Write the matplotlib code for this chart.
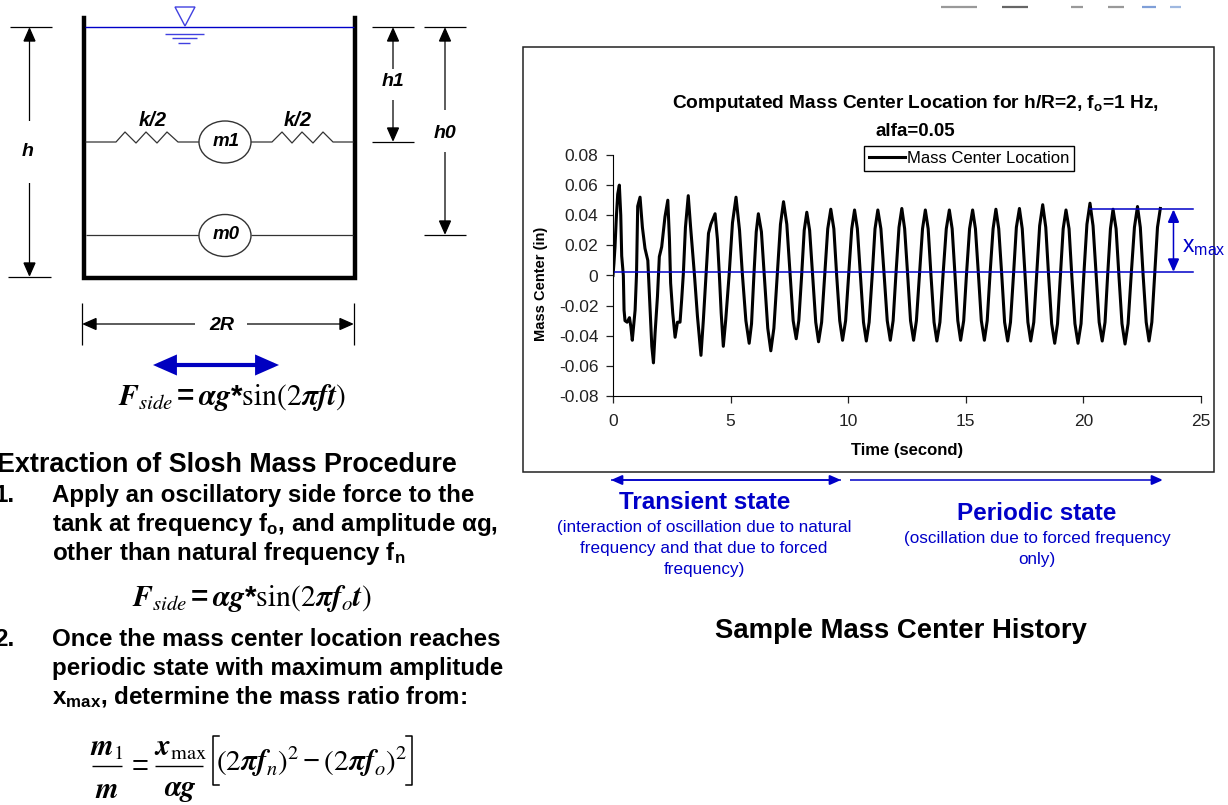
"""Slosh mass extraction slide: tank sketch, procedure text and mass center history."""

import matplotlib
matplotlib.use("Agg")
import matplotlib.pyplot as plt
from matplotlib.patches import Ellipse, Polygon, Rectangle

plt.rcParams["font.family"] = ["Liberation Sans", "DejaVu Sans"]
plt.rcParams["mathtext.default"] = "regular"

time_s = [
    0, 0.04, 0.085, 0.14, 0.20, 0.27, 0.33, 0.37, 0.44, 0.47, 0.51, 0.60, 0.70, 0.76, 0.82,
    0.94, 1.00, 1.05, 1.15, 1.25, 1.36, 1.48, 1.57, 1.65, 1.72, 1.79, 1.89, 1.97, 2.07, 2.21,
    2.33, 2.40, 2.45, 2.54, 2.64, 2.74, 2.85, 2.92, 2.99, 3.08, 3.20, 3.30, 3.46, 3.59, 3.74,
    3.84, 3.96, 4.06, 4.16, 4.34, 4.44, 4.52, 4.60, 4.69, 4.79, 4.94, 5.08, 5.23, 5.38, 5.50,
    5.65, 5.79, 5.89, 5.99, 6.09, 6.18, 6.31, 6.44, 6.58, 6.71, 6.84, 6.98, 7.12, 7.25, 7.39,
    7.52, 7.66, 7.79, 7.90, 8.02, 8.13, 8.24, 8.36, 8.49, 8.62, 8.74, 8.87, 9.00, 9.13, 9.26,
    9.39, 9.51, 9.64, 9.76, 9.89, 10.02, 10.15, 10.27, 10.39, 10.52, 10.65, 10.77, 10.89, 11.02,
    11.14, 11.26, 11.39, 11.53, 11.66, 11.79, 11.91, 12.03, 12.16, 12.28, 12.40, 12.53, 12.65,
    12.78, 12.90, 13.03, 13.16, 13.28, 13.40, 13.52, 13.65, 13.77, 13.90, 14.03, 14.17, 14.30,
    14.42, 14.54, 14.66, 14.78, 14.91, 15.03, 15.16, 15.29, 15.41, 15.54, 15.66, 15.79, 15.91,
    16.03, 16.16, 16.28, 16.40, 16.53, 16.65, 16.78, 16.90, 17.03, 17.15, 17.28, 17.40, 17.52,
    17.64, 17.76, 17.89, 18.02, 18.14, 18.27, 18.40, 18.52, 18.65, 18.78, 18.90, 19.02, 19.14,
    19.26, 19.39, 19.51, 19.64, 19.77, 19.90, 20.02, 20.15, 20.28, 20.41, 20.54, 20.67, 20.80,
    20.92, 21.03, 21.15, 21.26, 21.39, 21.51, 21.64, 21.77, 21.90, 22.03, 22.17, 22.30, 22.42,
    22.54, 22.67, 22.79, 22.91, 23.03, 23.15, 23.27,
]
mass_center = [
    0, 0.008, 0.019, 0.038, 0.054, 0.060, 0.040, 0.013, 0, -0.023, -0.030, -0.031, -0.028, -0.034, -0.043,
    -0.023, 0.001, 0.046, 0.052, 0.032, 0.018, 0.010, -0.021, -0.047, -0.058, -0.038, -0.014, 0.0125, 0.019, 0.039,
    0.050, 0.024, -0.005, -0.025, -0.041, -0.031, -0.031, -0.016, 0.001, 0.032, 0.053, 0.032, 0.001, -0.027, -0.053,
    -0.030, 0.001, 0.028, 0.034, 0.041, 0.024, 0.001, -0.025, -0.047, -0.030, 0.001, 0.035, 0.052, 0.030, 0.001,
    -0.030, -0.045, -0.032, 0, 0.029, 0.041, 0.029, -0.002, -0.035, -0.050, -0.035, 0, 0.034, 0.049, 0.034,
    0.003, -0.030, -0.042, -0.030, 0, 0.030, 0.042, 0.030, -0.001, -0.031, -0.044, -0.031, 0, 0.031, 0.044,
    0.031, 0, -0.030, -0.043, -0.030, 0.001, 0.031, 0.0435, 0.031, 0, -0.031, -0.0435, -0.031, 0,
    0.031, 0.0435, 0.031, 0, -0.030, -0.043, -0.030, 0.001, 0.032, 0.0445, 0.031, 0, -0.030,
    -0.043, -0.030, 0.001, 0.031, 0.0435, 0.031, 0, -0.031, -0.0435, -0.031, 0, 0.031, 0.0435,
    0.031, 0, -0.030, -0.043, -0.030, 0.001, 0.031, 0.0435, 0.031, 0, -0.030, -0.043, -0.030,
    0.001, 0.031, 0.044, 0.031, 0, -0.031, -0.0435, -0.031, 0.001, 0.032, 0.0445, 0.031, 0,
    -0.031, -0.0435, -0.031, 0.002, 0.033, 0.047, 0.032, 0, -0.032, -0.045, -0.032, 0, 0.031,
    0.0435, 0.031, -0.001, -0.032, -0.045, -0.032, 0.001, 0.034, 0.048, 0.033, 0.001, -0.031, -0.0435,
    -0.031, 0, 0.031, 0.044, 0.031, 0, -0.032, -0.0455, -0.032, 0, 0.032, 0.0458, 0.032,
    0, -0.031, -0.0435, -0.031, 0, 0.032, 0.0445,
]
x_ticks = [0, 5, 10, 15, 20, 25]
y_ticks = [-0.08, -0.06, -0.04, -0.02, 0, 0.02, 0.04, 0.06, 0.08]
y_tick_labels = ["-0.08", "-0.06", "-0.04", "-0.02", "0", "0.02", "0.04", "0.06", "0.08"]
mean_level = 0.0023
xmax_level = 0.044

BLUE = "#0000c8"
W, H = 1228, 805


def dim_arrow(ax, start, end, color="black", lw=0.9, head=9, both=False):
    style = "<|-|>" if both else "-|>"
    ax.annotate("", xy=end, xytext=start,
                arrowprops=dict(arrowstyle=f"{style},head_width=0.22,head_length=0.5", color=color, lw=lw,
                                shrinkA=0, shrinkB=0, mutation_scale=head * 2, joinstyle="miter", capstyle="butt"))


def hline(ax, x0, x1, y, color="black", lw=0.9):
    ax.plot([x0, x1], [y, y], color=color, lw=lw, solid_capstyle="butt")


def vline(ax, x, y0, y1, color="black", lw=0.9):
    ax.plot([x, x], [y0, y1], color=color, lw=lw, solid_capstyle="butt")


fig = plt.figure(figsize=(W / 100, H / 100), dpi=100)
bg = fig.add_axes([0, 0, 1, 1])
bg.set_xlim(0, W)
bg.set_ylim(H, 0)
bg.axis("off")

# tank
bg.plot([84, 84, 355, 355], [18, 278, 278, 18], color="black", lw=3.2, solid_joinstyle="miter")
hline(bg, 85, 354, 27.5, color=BLUE, lw=1)
bg.add_patch(Polygon([[175, 7], [195, 7], [185, 26]], closed=True, fill=False, edgecolor="#4040e0", lw=1))
hline(bg, 165, 204, 34, color="#4040e0", lw=1)
hline(bg, 172, 197, 38.5, color="#4040e0", lw=1)
hline(bg, 178, 190, 43, color="#4040e0", lw=1)

# springs and masses
bg.plot([86, 116, 125, 136, 146, 157, 167, 178, 199],
        [142, 142, 132, 143, 132, 143, 132, 142, 142], color="#333333", lw=0.9)
bg.plot([251, 272, 282, 292, 302, 313, 323, 333, 353],
        [142, 142, 132, 143, 132, 143, 132, 142, 142], color="#333333", lw=0.9)
hline(bg, 86, 199, 235.5, color="#333333")
hline(bg, 251, 353, 235.5, color="#333333")
for cy, name in [(142, "m1"), (235.5, "m0")]:
    bg.add_patch(Ellipse((225, cy), 52, 42, facecolor="white", edgecolor="#333333", lw=1, zorder=3))
    bg.text(226, cy - 1, name, ha="center", va="center", fontsize=13.5, style="italic", weight="bold", zorder=4)
bg.text(153, 120, "k/2", ha="center", va="center", fontsize=14.5, style="italic", weight="bold")
bg.text(298, 120, "k/2", ha="center", va="center", fontsize=14.5, style="italic", weight="bold")

# height dimensions
hline(bg, 10, 52, 27)
hline(bg, 8, 51, 277)
dim_arrow(bg, (29.5, 121), (29.5, 27))
dim_arrow(bg, (29.5, 183), (29.5, 277))
bg.text(28, 152, "h", ha="center", va="center", fontsize=14, style="italic", weight="bold")
hline(bg, 372, 414, 27)
hline(bg, 372, 414, 142)
dim_arrow(bg, (393, 69), (393, 27))
dim_arrow(bg, (393, 100), (393, 142))
bg.text(393, 82, "h1", ha="center", va="center", fontsize=14, style="italic", weight="bold")
hline(bg, 424, 466, 27)
hline(bg, 424, 466, 235.5)
dim_arrow(bg, (445, 110), (445, 27))
dim_arrow(bg, (445, 152), (445, 235))
bg.text(445, 133, "h0", ha="center", va="center", fontsize=14, style="italic", weight="bold")
vline(bg, 81.5, 303, 345)
vline(bg, 354, 303, 345)
dim_arrow(bg, (195, 324), (82, 324))
dim_arrow(bg, (247, 324), (354, 324))
bg.text(222, 325, "2R", ha="center", va="center", fontsize=14, style="italic", weight="bold")

# side force
dim_arrow(bg, (153, 365), (279, 365), color="#0000c0", lw=3, head=12, both=True)
bg.text(232, 397, r"$\mathbfit{F}_{\mathit{side}}=\mathbfit{\alpha g}$*$\mathrm{sin(2}\mathbfit{\pi ft}\mathrm{)}$",
        ha="center", va="center", fontsize=21.3, math_fontfamily="stix", weight="bold")

# procedure text
bg.text(-3, 465, "Extraction of Slosh Mass Procedure", ha="left", va="center", fontsize=19.4, weight="bold")
bg.text(-6, 495, "1.", ha="left", va="center", fontsize=17.4, weight="bold")
bg.text(52, 495, "Apply an oscillatory side force to the", ha="left", va="center", fontsize=17.4, weight="bold")
bg.text(52, 524, "tank at frequency f$_{o}$, and amplitude αg,", ha="left", va="center", fontsize=17.4, weight="bold")
bg.text(52, 553, "other than natural frequency f$_{n}$", ha="left", va="center", fontsize=17.4, weight="bold")
bg.text(252, 598, r"$\mathbfit{F}_{\mathit{side}}=\mathbfit{\alpha g}$*$\mathrm{sin(2}\mathbfit{\pi f}_{\mathit{o}}\mathbfit{t}\mathrm{)}$",
        ha="center", va="center", fontsize=21.3, math_fontfamily="stix", weight="bold")
bg.text(-6, 639, "2.", ha="left", va="center", fontsize=17.4, weight="bold")
bg.text(52, 639, "Once the mass center location reaches", ha="left", va="center", fontsize=17.4, weight="bold")
bg.text(52, 668, "periodic state with maximum amplitude", ha="left", va="center", fontsize=17.4, weight="bold")
bg.text(52, 697, "x$_{max}$, determine the mass ratio from:", ha="left", va="center", fontsize=17.4, weight="bold")

# mass ratio formula, laid out by hand because the fractions are tall
bg.text(107, 748, r"$\mathbfit{m}_{\mathrm{1}}$", ha="center", va="center", fontsize=21, math_fontfamily="stix")
hline(bg, 92, 122, 766, lw=1)
bg.text(107, 790, r"$\mathbfit{m}$", ha="center", va="center", fontsize=21, math_fontfamily="stix")
bg.text(138, 765, r"$=$", ha="center", va="center", fontsize=21, math_fontfamily="stix")
bg.text(180, 748, r"$\mathbfit{x}_{\mathrm{max}}$", ha="center", va="center", fontsize=21, math_fontfamily="stix")
hline(bg, 155, 203, 766, lw=1)
bg.text(180, 790, r"$\mathbfit{\alpha g}$", ha="center", va="center", fontsize=21, math_fontfamily="stix")
bg.plot([219, 213, 213, 219], [736, 736, 785, 785], color="black", lw=1.1)
bg.plot([406, 412, 412, 406], [736, 736, 785, 785], color="black", lw=1.1)
bg.text(312, 762,
        r"$\mathrm{(2}\mathbfit{\pi f}_{\mathit{n}}\mathrm{)}^{\mathrm{2}}-\mathrm{(2}\mathbfit{\pi f}_{\mathit{o}}\mathrm{)}^{\mathrm{2}}$",
        ha="center", va="center", fontsize=21, math_fontfamily="stix")

# clipped artwork at the top edge
for x0, x1, col in [(941, 977, "#999999"), (1002, 1028, "#666666"), (1071, 1083, "#999999"),
                    (1108, 1124, "#999999"), (1142, 1156, "#7f9fd8"), (1170, 1181, "#9fb8e0")]:
    hline(bg, x0, x1, 7, color=col, lw=1.6)

# chart frame and captions
bg.add_patch(Rectangle((523, 47), 691, 425, fill=False, edgecolor="#222222", lw=1.1))
bg.text(915, 104, "Computated Mass Center Location for h/R=2, f$_{o}$=1 Hz,", ha="center", va="center",
        fontsize=13.8, weight="bold")
bg.text(915, 132, "alfa=0.05", ha="center", va="center", fontsize=13.5, weight="bold")
dim_arrow(bg, (841, 480), (611, 480), color=BLUE, lw=1.1, head=7)
dim_arrow(bg, (611, 480), (841, 480), color=BLUE, lw=1.1, head=7)
dim_arrow(bg, (850, 480), (1163, 480), color=BLUE, lw=1.1, head=7)
bg.text(705, 502, "Transient state", ha="center", va="center", fontsize=17.5, weight="bold", color=BLUE)
bg.text(704, 527, "(interaction of oscillation due to natural", ha="center", va="center", fontsize=12.3, color=BLUE)
bg.text(704, 548, "frequency and that due to forced", ha="center", va="center", fontsize=12.3, color=BLUE)
bg.text(704, 569, "frequency)", ha="center", va="center", fontsize=12.3, color=BLUE)
bg.text(1037, 513, "Periodic state", ha="center", va="center", fontsize=17.5, weight="bold", color=BLUE)
bg.text(1037, 538, "(oscillation due to forced frequency", ha="center", va="center", fontsize=12.3, color=BLUE)
bg.text(1037, 559, "only)", ha="center", va="center", fontsize=12.3, color=BLUE)
bg.text(901, 631, "Sample Mass Center History", ha="center", va="center", fontsize=19.8, weight="bold")
bg.text(1182, 246, "x$_{max}$", ha="left", va="center", fontsize=16.5, color=BLUE)

# mass center history
ax = fig.add_axes([613 / W, 1 - 396 / H, (1201 - 613) / W, (396 - 155) / H], zorder=2)
ax.patch.set_visible(False)
ax.plot(time_s, mass_center, color="black", lw=2.2, label="Mass Center Location")
ax.plot([0, 24.66], [mean_level, mean_level], color=BLUE, lw=1.1)
ax.plot([20.3, 24.66], [xmax_level, xmax_level], color=BLUE, lw=1.1)
dim_arrow(ax, (23.83, mean_level), (23.83, xmax_level), color=BLUE, lw=1.1, head=8, both=True)
ax.set_xlim(0, 25)
ax.set_ylim(-0.08, 0.08)
ax.set_xticks(x_ticks)
ax.set_yticks(y_ticks)
ax.set_yticklabels(y_tick_labels)
ax.tick_params(labelsize=12.5, length=5, width=0.9, colors="#222222")
ax.tick_params(axis="x", pad=8)
ax.tick_params(axis="y", pad=5.5)
for side in ["top", "right"]:
    ax.spines[side].set_visible(False)
ax.set_xlabel("Time (second)", fontsize=12, weight="bold")
ax.xaxis.set_label_coords((907 - 613) / (1201 - 613), -(451 - 396) / (396 - 155), ax.transAxes)
ax.xaxis.label.set_va("center")
ax.set_ylabel("Mass Center (in)", fontsize=10.5, weight="bold")
ax.yaxis.set_label_coords(-(613 - 541) / (1201 - 613), 0.465, ax.transAxes)
ax.yaxis.label.set_va("center")
ax.legend(loc="center", bbox_to_anchor=(969 / W, 1 - 158.5 / H), bbox_transform=fig.transFigure, fontsize=12,
          fancybox=False, framealpha=1, edgecolor="black", handlelength=2.2, handletextpad=0.1,
          borderpad=0.3, borderaxespad=0)

fig.savefig("out.png", dpi=100)
